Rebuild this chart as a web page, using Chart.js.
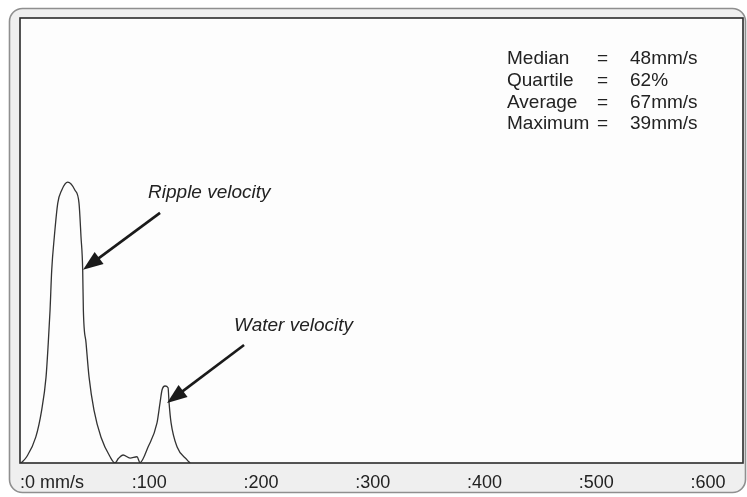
<!DOCTYPE html>
<html>
<head>
<meta charset="utf-8">
<title>Velocity distribution</title>
<script src="https://cdn.jsdelivr.net/npm/chart.js@4.4.1/dist/chart.umd.min.js"></script>
<style>
  html, body { margin: 0; padding: 0; background: #fff; }
  canvas { display: block; }
</style>
</head>
<body>
<canvas id="velocityChart" width="747" height="497"></canvas>
<script>
// velocity (mm/s) and relative count along the distribution curve
const speeds = [0.9, 6.0, 14.1, 19.4, 23.3, 25.3, 26.9, 28.4, 30.7, 33.8, 37.3, 42.7, 49.2, 52.8,
  54.6, 56.1, 56.7, 59.1, 61.8, 66.2, 72.5, 80.6, 85.0, 88.0, 92.2, 98.5, 104.7, 107.4,
  114.6, 122.6, 125.3, 127.1, 129.8, 132.5, 133.4, 135.2, 140.6, 149.5, 152.2];
const counts = [0, 1.4, 5.8, 11.9, 19.3, 27.0, 34.4, 43.4, 50.8, 58.4, 61.3, 63.1, 61.3, 58.4,
  50.8, 43.4, 34.4, 27.0, 19.3, 11.9, 5.8, 1.4, 0, 1.0, 1.8, 1.1, 1.4, 0.1,
  3.6, 9.0, 13.5, 16.4, 17.3, 16.9, 13.5, 9.0, 3.6, 0.7, 0];

const tickValues = [0, 100, 200, 300, 400, 500, 600];
const tickLabels = [":0 mm/s", ":100", ":200", ":300", ":400", ":500", ":600"];

const statNames = ["Median", "Quartile", "Average", "Maximum"];
const statValues = ["48mm/s", "62%", "67mm/s", "39mm/s"];

const calloutNames = ["Ripple velocity", "Water velocity"];

// callout placement in axis units: label anchor, arrow tail, arrow tip
const callouts = [
  { text: [114.6, 60.7], from: [125.3, 56.2], to: [56.4, 43.4] },
  { text: [191.6, 30.8], from: [200.5, 26.5], to: [131.6, 13.5] }
];

const FONT = "'Liberation Sans', Arial, Helvetica, sans-serif";

function roundRect(ctx, x, y, w, h, r) {
  ctx.beginPath();
  ctx.moveTo(x + r, y);
  ctx.arcTo(x + w, y, x + w, y + h, r);
  ctx.arcTo(x + w, y + h, x, y + h, r);
  ctx.arcTo(x, y + h, x, y, r);
  ctx.arcTo(x, y, x + w, y, r);
  ctx.closePath();
}

function drawArrow(ctx, x1, y1, x2, y2) {
  const ang = Math.atan2(y2 - y1, x2 - x1);
  const head = 20, half = 7.5;
  const bx = x2 - Math.cos(ang) * head, by = y2 - Math.sin(ang) * head;
  ctx.save();
  ctx.strokeStyle = "#1a1a1a";
  ctx.fillStyle = "#1a1a1a";
  ctx.lineWidth = 2.6;
  ctx.beginPath();
  ctx.moveTo(x1, y1);
  ctx.lineTo(bx + Math.cos(ang) * 2, by + Math.sin(ang) * 2);
  ctx.stroke();
  ctx.beginPath();
  ctx.moveTo(x2, y2);
  ctx.lineTo(bx + Math.sin(ang) * half, by - Math.cos(ang) * half);
  ctx.lineTo(bx - Math.sin(ang) * half, by + Math.cos(ang) * half);
  ctx.closePath();
  ctx.fill();
  ctx.restore();
}

// panel frame, plot box, summary block and callouts
const framePlugin = {
  id: "frame",
  beforeDraw(chart) {
    const { ctx, chartArea: a } = chart;
    ctx.save();
    ctx.fillStyle = "#fff";
    ctx.fillRect(0, 0, chart.width, chart.height);
    roundRect(ctx, 9.5, 8.5, 736, 484, 13);
    ctx.fillStyle = "#efefef";
    ctx.fill();
    ctx.strokeStyle = "#8f8f8f";
    ctx.lineWidth = 1.6;
    ctx.stroke();
    ctx.fillStyle = "#fdfdfd";
    ctx.fillRect(a.left, a.top, a.right - a.left, a.bottom - a.top);
    ctx.restore();
  },
  afterDatasetsDraw(chart) {
    const { ctx, chartArea: a, scales: { x, y } } = chart;
    ctx.save();
    ctx.strokeStyle = "#2a2a2a";
    ctx.lineWidth = 1.6;
    ctx.strokeRect(a.left, a.top, a.right - a.left, a.bottom - a.top);

    // summary block
    ctx.fillStyle = "#222";
    ctx.font = "19px " + FONT;
    ctx.textBaseline = "middle";
    statNames.forEach((name, i) => {
      const cy = a.top + 41 + i * 21.7;
      ctx.fillText(name, a.left + 487, cy);
      ctx.fillText("=", a.left + 577, cy);
      ctx.fillText(statValues[i], a.left + 610, cy);
    });

    // callouts
    ctx.font = "italic 19px " + FONT;
    callouts.forEach((c, i) => {
      ctx.fillText(calloutNames[i], x.getPixelForValue(c.text[0]), y.getPixelForValue(c.text[1]));
      drawArrow(ctx,
        x.getPixelForValue(c.from[0]), y.getPixelForValue(c.from[1]),
        x.getPixelForValue(c.to[0]), y.getPixelForValue(c.to[1]));
    });
    ctx.restore();
  }
};

new Chart(document.getElementById("velocityChart").getContext("2d"), {
  type: "line",
  data: {
    datasets: [{
      data: speeds.map((s, i) => ({ x: s, y: counts[i] })),
      borderColor: "#333",
      borderWidth: 1.3,
      pointRadius: 0,
      fill: false,
      cubicInterpolationMode: "monotone"
    }]
  },
  options: {
    responsive: false,
    animation: false,
    events: [],
    layout: { padding: { left: 20, top: 18, right: 4, bottom: 4 } },
    plugins: { legend: { display: false }, tooltip: { enabled: false } },
    scales: {
      x: {
        type: "linear",
        min: 0,
        max: 647,
        grid: { display: false, drawTicks: false },
        border: { display: false },
        afterBuildTicks: s => { s.ticks = tickValues.map(v => ({ value: v })); },
        afterFit: s => { s.height = 30; },
        ticks: {
          align: "start",
          padding: 9,
          autoSkip: false,
          maxRotation: 0,
          color: "#222",
          font: { family: FONT, size: 18 },
          callback: (v, i) => tickLabels[i]
        }
      },
      y: { display: false, min: 0, max: 100 }
    }
  },
  plugins: [framePlugin]
});
</script>
</body>
</html>
